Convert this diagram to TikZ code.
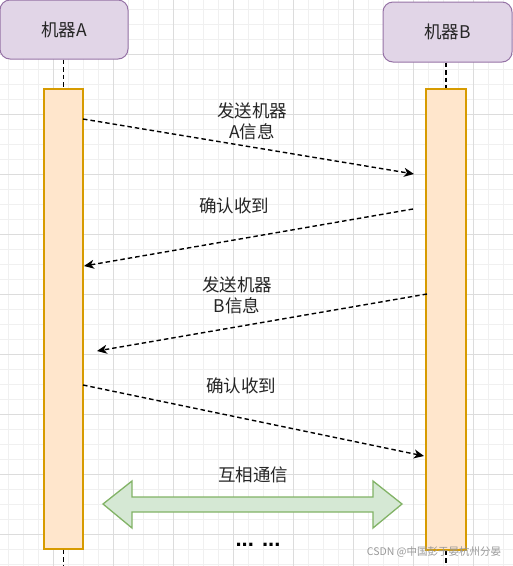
\documentclass[tikz,border=0pt]{standalone}
\usepackage{fontspec}
\setmainfont{Noto Sans CJK SC}
\usetikzlibrary{arrows.meta}
\definecolor{hdrfill}{HTML}{E1D5E7}
\definecolor{hdrline}{HTML}{9673A6}
\definecolor{actfill}{HTML}{FFE6CC}
\definecolor{actline}{HTML}{D79B00}
\definecolor{dafill}{HTML}{D5E8D4}
\definecolor{daline}{HTML}{82B366}
\definecolor{gminor}{HTML}{F0F0F0}
\definecolor{gmajor}{HTML}{DCDCDC}
\tikzset{
  hdr/.style={draw=hdrline, fill=hdrfill, line width=1pt, rounded corners=10pt, inner sep=0pt,
    font=\fontsize{17.5}{21}\selectfont, text=black!85},
  actbar/.style={draw=actline, fill=actfill, line width=1.3pt, inner sep=0pt},
  lifeline/.style={draw=black, line width=1.4pt, dash pattern=on 4.5pt off 3pt},
  msg/.style={draw=black, line width=1.4pt, dash pattern=on 4.5pt off 3pt,
    -{Stealth[length=10pt,width=9pt,inset=3pt]}},
  lbl/.style={font=\fontsize{17.5}{21}\selectfont, align=center, inner sep=0pt, text=black!85},
  gridminor/.style={draw=gminor, line width=0.6pt},
  gridmajor/.style={draw=gmajor, line width=0.8pt},
  dblarrow/.style={draw=daline, fill=dafill, line width=1.3pt, line join=miter},
}
\begin{document}
\begin{tikzpicture}[x=1pt,y=-1pt]
\useasboundingbox (0,0) rectangle (513,566);
\fill[white] (0,0) rectangle (513,566);
% grid
\foreach \x in {8,23,...,508} \draw[gridminor] (\x,0) -- (\x,566);
\foreach \y in {9,24,...,564} \draw[gridminor] (0,\y) -- (513,\y);
\foreach \x in {53,113,...,473} \draw[gridmajor] (\x,0) -- (\x,566);
\foreach \y in {54,114,...,534} \draw[gridmajor] (0,\y) -- (513,\y);

% headers
\node[hdr, minimum width=128pt, minimum height=59pt] (hA) at (64,29.5) {机器A};
\node[hdr, minimum width=129pt, minimum height=60pt] (hB) at (447.5,32) {机器B};

% activation bars
\node[actbar, minimum width=39pt, minimum height=460pt] (barA) at (63.5,319) {};
\node[actbar, minimum width=40pt, minimum height=461pt] (barB) at (446,319.5) {};

% lifelines
\coordinate (endA) at (63.5,566);
\coordinate (endB) at (446,566);
\draw[lifeline] (hA.south -| barA.north) -- (barA.north);
\draw[lifeline] (barA.south) -- (endA);
\draw[lifeline] (hB.south -| barB.north) -- (barB.north);
\draw[lifeline] (barB.south) -- (endB);

% message end points
\coordinate (m1s) at (83,119);
\coordinate (m1e) at (414,174);
\coordinate (m2s) at (413,209);
\coordinate (m2e) at (84,266);
\coordinate (m3s) at (427,294);
\coordinate (m3e) at (97,351);
\coordinate (m4s) at (83,385);
\coordinate (m4e) at (424,456);

\draw[msg] (m1s) -- (m1e);
\draw[msg] (m2s) -- (m2e);
\draw[msg] (m3s) -- (m3e);
\draw[msg] (m4s) -- (m4e);

% labels
\node[lbl] (t1) at (252,121) {发送机器\\A信息};
\node[lbl] (t2) at (234,206) {确认收到};
\node[lbl] (t3) at (237,295) {发送机器\\B信息};
\node[lbl] (t4) at (241,386) {确认收到};
\node[lbl] (t5) at (253,475) {互相通信};

% double arrow
\path[dblarrow] (103,504) -- (132,481) -- (132,497) -- (373,497) -- (373,481) -- (402,504)
  -- (373,528) -- (373,512) -- (132,512) -- (132,528) -- cycle;

% dots
\node[font=\fontspec{Liberation Sans}\bfseries\fontsize{22}{22}\selectfont, inner sep=0pt] (dots) at (258,545) {... ...};

% watermark
\node[font=\fontsize{10.5}{12}\selectfont, text=black!40, inner sep=0pt] (wm) at (434,552) {CSDN @中国彭于晏杭州分晏};
\end{tikzpicture}
\end{document}
